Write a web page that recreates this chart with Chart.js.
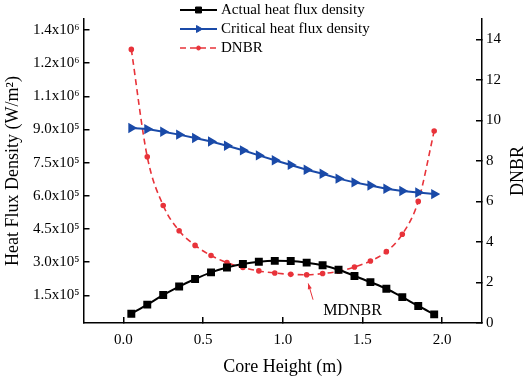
<!DOCTYPE html>
<html>
<head>
<meta charset="utf-8">
<script src="https://cdn.jsdelivr.net/npm/chart.js@4.4.1/dist/chart.umd.min.js"></script>
<style>
  html, body { margin: 0; padding: 0; background: #fff; }
</style>
</head>
<body>
<canvas id="chart" width="526" height="377"></canvas>
<script>
// data
const coreHeight = [0.05, 0.15, 0.25, 0.35, 0.45, 0.55, 0.65, 0.75, 0.85, 0.95,
                    1.05, 1.15, 1.25, 1.35, 1.45, 1.55, 1.65, 1.75, 1.85, 1.95];
const actualFlux = [67000, 108000, 152000, 190000, 224000, 254000, 276000, 292000, 302000, 306000,
                    305000, 298000, 286000, 266000, 238000, 210000, 180000, 142000, 102000, 64000];
const criticalFlux = [907000, 902000, 890000, 877000, 862000, 846000, 827000, 806000, 783000, 761000,
                      740000, 718000, 700000, 678000, 661000, 647000, 632000, 622000, 615000, 608000];
const dnbr = [13.5, 8.2, 5.8, 4.55, 3.83, 3.33, 2.98, 2.74, 2.57, 2.47,
              2.4, 2.38, 2.44, 2.55, 2.76, 3.06, 3.52, 4.38, 6.0, 9.47];

const xTicks = [0, 0.5, 1, 1.5, 2];
const fluxTicks = [150000, 300000, 450000, 600000, 750000, 900000, 1050000, 1200000, 1350000];
const fluxTickLabels = ['1.5x10⁵', '3.0x10⁵', '4.5x10⁵', '6.0x10⁵', '7.5x10⁵', '9.0x10⁵',
                        '1.1x10⁶', '1.2x10⁶', '1.4x10⁶'];
const dnbrTicks = [0, 2, 4, 6, 8, 10, 12, 14];

const pairs = (ys) => coreHeight.map((x, i) => ({ x: x, y: ys[i] }));
const setTicks = (values) => (scale) => { scale.ticks = values.map(v => ({ value: v })); };

Chart.defaults.font.family = '"Liberation Serif", "Times New Roman", serif';
Chart.defaults.font.size = 15;
Chart.defaults.color = '#000';

// legend drawn inside the plot, line sample + marker like Origin
const originLegend = {
  id: 'originLegend',
  afterDraw(chart) {
    const ctx = chart.ctx;
    const x0 = 180, x1 = 217, tx = 221;
    const rows = [10, 29, 48];
    chart.data.datasets.forEach((ds, i) => {
      const y = rows[i];
      ctx.save();
      ctx.strokeStyle = ds.borderColor;
      ctx.lineWidth = ds.borderWidth;
      ctx.setLineDash(ds.borderDash || []);
      ctx.beginPath();
      ctx.moveTo(x0, y);
      ctx.lineTo(x1, y);
      ctx.stroke();
      ctx.setLineDash([]);
      ctx.fillStyle = ds.pointBackgroundColor;
      ctx.strokeStyle = ds.pointBorderColor;
      ctx.lineWidth = 1;
      Chart.helpers.drawPoint(ctx, {
        pointStyle: ds.pointStyle, rotation: ds.pointRotation || 0,
        radius: ds.pointRadius, borderWidth: 1
      }, (x0 + x1) / 2, y);
      ctx.fillStyle = '#000';
      ctx.font = '15px "Liberation Serif", serif';
      ctx.textBaseline = 'middle';
      ctx.textAlign = 'left';
      ctx.fillText(ds.label, tx, y);
      ctx.restore();
    });
  }
};

// MDNBR arrow + right axis title (reads bottom to top, like Origin)
const notes = {
  id: 'notes',
  afterDatasetsDraw(chart) {
    const ctx = chart.ctx;
    const xs = chart.scales.x, ys = chart.scales.y1;
    const tipX = xs.getPixelForValue(1.16), tipY = ys.getPixelForValue(1.95);
    const tailX = xs.getPixelForValue(1.19), tailY = ys.getPixelForValue(1.15);
    const ang = Math.atan2(tipY - tailY, tipX - tailX);
    ctx.save();
    ctx.strokeStyle = '#e8333a';
    ctx.fillStyle = '#e8333a';
    ctx.lineWidth = 1;
    ctx.beginPath();
    ctx.moveTo(tailX, tailY);
    ctx.lineTo(tipX, tipY);
    ctx.stroke();
    ctx.beginPath();
    ctx.moveTo(tipX, tipY);
    ctx.lineTo(tipX - 6 * Math.cos(ang - 0.35), tipY - 6 * Math.sin(ang - 0.35));
    ctx.lineTo(tipX - 6 * Math.cos(ang + 0.35), tipY - 6 * Math.sin(ang + 0.35));
    ctx.closePath();
    ctx.fill();
    ctx.fillStyle = '#000';
    ctx.font = '16px "Liberation Serif", serif';
    ctx.textAlign = 'center';
    ctx.textBaseline = 'middle';
    ctx.fillText('MDNBR', xs.getPixelForValue(1.4375), ys.getPixelForValue(0.6));

    // DNBR axis title
    const area = chart.chartArea;
    ctx.font = '18px "Liberation Serif", serif';
    ctx.translate(518, (area.top + area.bottom) / 2);
    ctx.rotate(-Math.PI / 2);
    ctx.fillText('DNBR', 0, 0);
    ctx.restore();
  }
};

const axisLine = { display: true, color: '#000', width: 1.5 };
const tickGrid = { drawOnChartArea: false, color: '#000', lineWidth: 1.5, tickLength: -6 };

new Chart(document.getElementById('chart'), {
  type: 'line',
  data: {
    datasets: [
      {
        label: 'Actual heat flux density',
        data: pairs(actualFlux),
        yAxisID: 'y',
        borderColor: '#000',
        borderWidth: 2,
        pointStyle: 'rect',
        pointRadius: 4.2,
        pointBackgroundColor: '#000',
        pointBorderColor: '#000',
        cubicInterpolationMode: 'monotone'
      },
      {
        label: 'Critical heat flux density',
        data: pairs(criticalFlux),
        yAxisID: 'y',
        borderColor: '#1a4aa8',
        borderWidth: 2,
        pointStyle: 'triangle',
        pointRotation: 90,
        pointRadius: 4,
        pointBackgroundColor: '#1a4aa8',
        pointBorderColor: '#1a4aa8',
        tension: 0
      },
      {
        label: 'DNBR',
        data: pairs(dnbr),
        yAxisID: 'y1',
        borderColor: '#e8333a',
        borderWidth: 1.6,
        borderDash: [6, 4],
        pointStyle: 'circle',
        pointRadius: 2,
        pointBackgroundColor: '#e8333a',
        pointBorderColor: '#e8333a',
        cubicInterpolationMode: 'monotone'
      }
    ]
  },
  options: {
    responsive: false,
    animation: false,
    layout: { padding: { top: 3, left: 0, right: 0, bottom: 0 } },
    plugins: { legend: { display: false }, tooltip: { enabled: false } },
    scales: {
      x: {
        type: 'linear',
        min: -0.25,
        max: 2.25,
        afterBuildTicks: setTicks(xTicks),
        afterFit: (s) => { s.height = 54; },
        border: axisLine,
        grid: tickGrid,
        ticks: { padding: 14, callback: (v) => v.toFixed(1) },
        title: { display: true, text: 'Core Height (m)', font: { size: 18, lineHeight: 1 }, padding: { top: 0, bottom: 1 } }
      },
      y: {
        type: 'linear',
        position: 'left',
        min: 25000,
        max: 1400000,
        afterBuildTicks: setTicks(fluxTicks),
        afterFit: (s) => { s.width = 83.5; },
        border: axisLine,
        grid: tickGrid,
        ticks: { padding: 10, callback: (v) => fluxTickLabels[fluxTicks.indexOf(v)] },
        title: { display: true, text: 'Heat Flux Density (W/m²)', font: { size: 18, lineHeight: 1 }, padding: { top: 4 } }
      },
      y1: {
        type: 'linear',
        position: 'right',
        min: 0,
        max: 15,
        afterBuildTicks: setTicks(dnbrTicks),
        afterFit: (s) => { s.width = 44; },
        border: axisLine,
        grid: tickGrid,
        ticks: { padding: 10 },
        title: { display: false, text: 'DNBR' }
      }
    }
  },
  plugins: [originLegend, notes]
});
</script>
</body>
</html>
